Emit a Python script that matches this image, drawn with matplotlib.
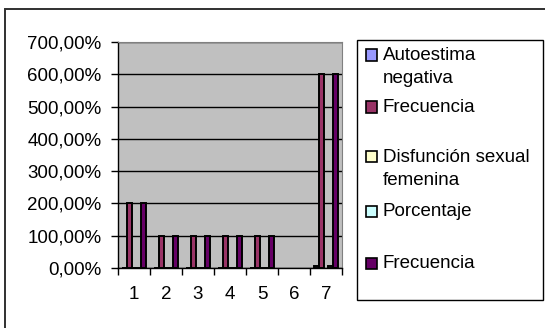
import numpy as np
import matplotlib
matplotlib.use("Agg")
import matplotlib.pyplot as plt
from matplotlib.patches import Rectangle
from matplotlib.ticker import FuncFormatter, FixedLocator

plt.rcParams['font.family'] = ['Liberation Sans', 'DejaVu Sans']

# Datos por categoría (1..7), en fracción (1.0 = 100%)
categorias = ["1", "2", "3", "4", "5", "6", "7"]
autoestima = [0, 0, 0, 0, 0, np.nan, 0.05]
frecuencia_a = [2, 1, 1, 1, 1, np.nan, 6]
disfuncion = [0, 0, 0, 0, 0, np.nan, np.nan]
porcentaje = [0, 0, 0, 0, 0, np.nan, 0.05]
frecuencia_b = [2, 1, 1, 1, 1, np.nan, 6]

series = [autoestima, frecuencia_a, disfuncion, porcentaje, frecuencia_b]
nombres = ["Autoestima\nnegativa", "Frecuencia", "Disfunción sexual\nfemenina",
           "Porcentaje", "Frecuencia"]
colores = ["#9999FF", "#993366", "#FFFFCC", "#CCFFFF", "#660066"]

W, H = 545, 328
fs = 13.5
fig = plt.figure(figsize=(W / 100, H / 100), dpi=100)
ax = fig.add_axes([118 / W, 1 - 268 / H, 224 / W, 226 / H])

x = np.arange(1, len(categorias) + 1)
ancho = 1 / 6.5
for i, (vals, col) in enumerate(zip(series, colores)):
    ax.bar(x + (i - 2) * ancho, vals, width=ancho, color=col,
           edgecolor="black", linewidth=1.4, zorder=3)

ax.set_facecolor("#C0C0C0")
ax.set_xlim(0.5, 7.5)
ax.set_ylim(0, 7)
ax.yaxis.set_major_locator(FixedLocator(np.arange(0, 8)))
ax.yaxis.set_major_formatter(
    FuncFormatter(lambda v, p: f"{v * 100:.2f}".replace(".", ",") + "%"))
ax.grid(axis="y", color="black", linewidth=1, zorder=1)

ax.set_xticks(x)
ax.set_xticklabels(categorias)
ax.set_xticks(np.arange(0.5, 8, 1), minor=True)
ax.tick_params(axis="x", which="major", length=0, pad=13, labelsize=fs)
ax.tick_params(axis="x", which="minor", length=5, width=1, color="black")
ax.tick_params(axis="y", length=5, width=1, pad=7, labelsize=fs)

for lado in ["top", "right"]:
    ax.spines[lado].set_color("#808080")
for lado in ["left", "bottom"]:
    ax.spines[lado].set_color("black")
    ax.spines[lado].set_linewidth(1)

# Marco exterior del gráfico
fig.patches.append(Rectangle((5 / W, -0.05), 1.1, 1 - 9 / H + 0.05,
                             transform=fig.transFigure, fill=False,
                             edgecolor="#303030", linewidth=1.4))

# Leyenda
fig.patches.append(Rectangle((357 / W, 1 - 300 / H), 186 / W, 260 / H,
                             transform=fig.transFigure, facecolor="white",
                             edgecolor="black", linewidth=1))
filas = [55, 107, 157, 211, 263]
for nombre, col, yy in zip(nombres, colores, filas):
    fig.patches.append(Rectangle((366 / W, 1 - (yy + 5.5) / H), 11 / W, 11 / H,
                                 transform=fig.transFigure, facecolor=col,
                                 edgecolor="black", linewidth=1.2))
    fig.text(383 / W, 1 - (yy - 8) / H, nombre, fontsize=fs, va="top",
             ha="left", linespacing=1.45)

fig.savefig("out.png", dpi=100)
